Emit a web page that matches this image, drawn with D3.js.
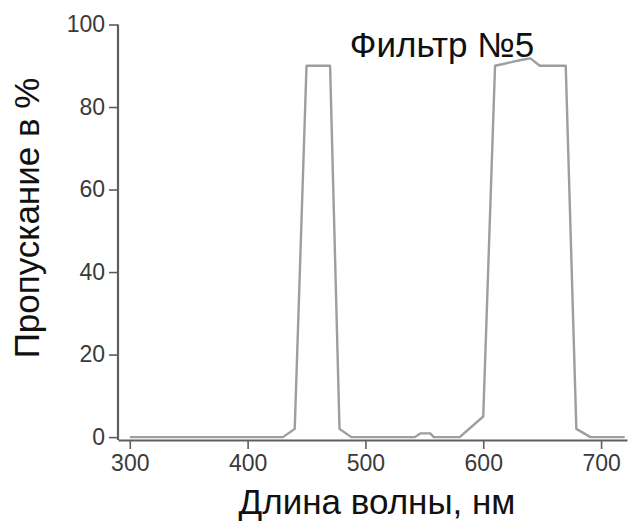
<!DOCTYPE html>
<html>
<head>
<meta charset="utf-8">
<script src="https://cdn.jsdelivr.net/npm/d3@7"></script>
<style>
  html, body { margin: 0; padding: 0; background: #fff; }
  svg { display: block; }
  text { font-family: "Liberation Sans", Arial, sans-serif; }
</style>
</head>
<body>
<svg id="chart" width="636" height="527"></svg>
<script>
// Transmission spectrum of filter No.5
const wavelength = [300, 430, 440, 450, 470, 478, 488, 542, 546.5, 555, 558, 580, 600, 610, 632, 640, 648, 670, 679, 691, 720];
const transmission = [0, 0, 2, 90, 90, 2, 0, 0, 0.9, 0.9, 0, 0, 5, 90, 91.4, 91.8, 90, 90, 2, 0, 0];

const xTicks = [300, 400, 500, 600, 700];
const xMinorTicks = [350, 450, 550, 650];
const yTicks = [0, 20, 40, 60, 80, 100];
const yMinorTicks = [10, 30, 50, 70, 90];

const titleText = "Фильтр №5";
const xLabel = "Длина волны, нм";
const yLabel = "Пропускание в %";

const svg = d3.select("#chart");

const x = d3.scaleLinear().domain([290, 722]).range([118, 627]);
const y = d3.scaleLinear().domain([-0.7, 100]).range([440, 24.5]);

const axisColor = "#5e5e5e";
const lineColor = "#9e9e9e";
const tickFont = 23;

// x axis
const gx = svg.append("g").attr("transform", `translate(0,${y.range()[0]})`);
gx.call(d3.axisBottom(x).tickValues(xMinorTicks).tickSize(5).tickFormat(""))
  .call(g => g.select(".domain").remove());
gx.call(d3.axisBottom(x).tickValues(xTicks).tickSize(9).tickSizeOuter(0).tickPadding(6))
  .call(g => g.selectAll(".domain").attr("stroke", axisColor).attr("stroke-width", 2.2))
  .call(g => g.selectAll("text").attr("font-size", tickFont).attr("fill", "#3a3a3a"));
gx.selectAll(".tick line").attr("stroke", axisColor).attr("stroke-width", 1.6);

// y axis
const gy = svg.append("g").attr("transform", `translate(${x.range()[0]},0)`);
gy.call(d3.axisLeft(y).tickValues(yMinorTicks).tickSize(5).tickFormat(""))
  .call(g => g.select(".domain").remove());
gy.call(d3.axisLeft(y).tickValues(yTicks).tickSize(9).tickSizeOuter(0).tickPadding(4))
  .call(g => g.selectAll(".domain").attr("stroke", axisColor).attr("stroke-width", 2.2))
  .call(g => g.selectAll("text").attr("font-size", tickFont).attr("fill", "#3a3a3a"));
gy.selectAll(".tick line").attr("stroke", axisColor).attr("stroke-width", 1.6);
// the y axis ends at the top tick
gy.select(".domain").attr("d", `M0,${y.range()[0]}V${y(100)}`);

// spectrum curve
const pts = wavelength.map((w, i) => [w, transmission[i]]);
svg.append("path")
  .datum(pts)
  .attr("fill", "none")
  .attr("stroke", lineColor)
  .attr("stroke-width", 2.4)
  .attr("stroke-linejoin", "round")
  .attr("d", d3.line().x(d => x(d[0])).y(d => y(d[1])));

// title
svg.append("text")
  .attr("x", 442).attr("y", 57)
  .attr("text-anchor", "middle")
  .attr("font-size", 35)
  .attr("fill", "#111")
  .text(titleText);

// axis titles
svg.append("text")
  .attr("x", 377).attr("y", 514)
  .attr("text-anchor", "middle")
  .attr("font-size", 35)
  .attr("fill", "#111")
  .text(xLabel);

svg.append("text")
  .attr("transform", "translate(39,218) rotate(-90)")
  .attr("text-anchor", "middle")
  .attr("font-size", 35)
  .attr("fill", "#111")
  .text(yLabel);
</script>
</body>
</html>
